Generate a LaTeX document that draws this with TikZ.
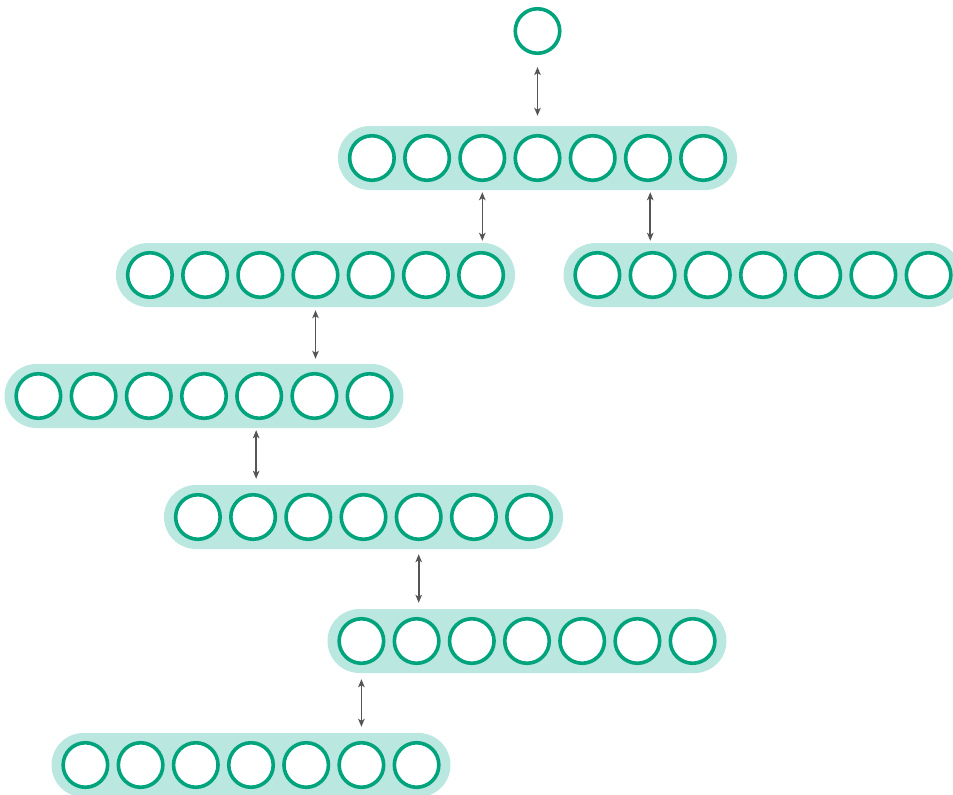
\documentclass[tikz,border=0pt]{standalone}
\usetikzlibrary{arrows.meta,calc}
\definecolor{ringgreen}{RGB}{0,164,124}
\definecolor{capfill}{RGB}{186,231,224}
\definecolor{arrgray}{RGB}{85,85,85}
\tikzset{
  unit/.style={circle,draw=ringgreen,line width=3.6pt,fill=white,minimum size=44.5pt,inner sep=0pt},
  capsule/.style={rectangle,fill=capfill,rounded corners=32pt,minimum width=399pt,minimum height=64pt,inner sep=0pt},
  link/.style={draw=arrgray,line width=1.6pt,{Stealth[length=8pt,width=6.5pt,inset=2pt]}-{Stealth[length=8pt,width=6.5pt,inset=2pt]}},
}
\newcommand\mylayer[3]{%
  \node[capsule] (#1) at (#2,#3) {};
  \foreach \i in {1,...,7}{\node[unit] (#1c\i) at ({#2+(\i-4)*55.2},#3) {};}
}
\begin{document}
\begin{tikzpicture}[x=1pt,y=-1pt]
\useasboundingbox (0,0) rectangle (953,795);
\node[unit] (top) at (537.5,31) {};
\mylayer{ra}{537.5}{158}
\mylayer{rbl}{315.5}{275}
\mylayer{rbr}{763}{275}
\mylayer{rc}{204}{396}
\mylayer{rd}{363.5}{517}
\mylayer{re}{527}{641}
\mylayer{rf}{251}{765}
\coordinate (mab) at ($(rac6)!.5!(rbrc2)$);
\coordinate (mcd) at ($(rcc5)!.5!(rdc2)$);
\draw[link,shorten <=12pt,shorten >=10pt] (top.south) -- (top |- ra.north);
\draw[link,shorten <=2pt,shorten >=2pt] (rac3 |- ra.south) -- (rac3 |- rbl.north);
\draw[link,shorten <=2pt,shorten >=2pt] (mab |- ra.south) -- (mab |- rbr.north);
\draw[link,shorten <=3pt,shorten >=5pt] (rblc4 |- rbl.south) -- (rblc4 |- rc.north);
\draw[link,shorten <=2pt,shorten >=6pt] (mcd |- rc.south) -- (mcd |- rd.north);
\draw[link,shorten <=5pt,shorten >=6pt] (rdc5 |- rd.south) -- (rdc5 |- re.north);
\draw[link,shorten <=6pt,shorten >=6pt] (rec1 |- re.south) -- (rec1 |- rf.north);
\end{tikzpicture}
\end{document}
